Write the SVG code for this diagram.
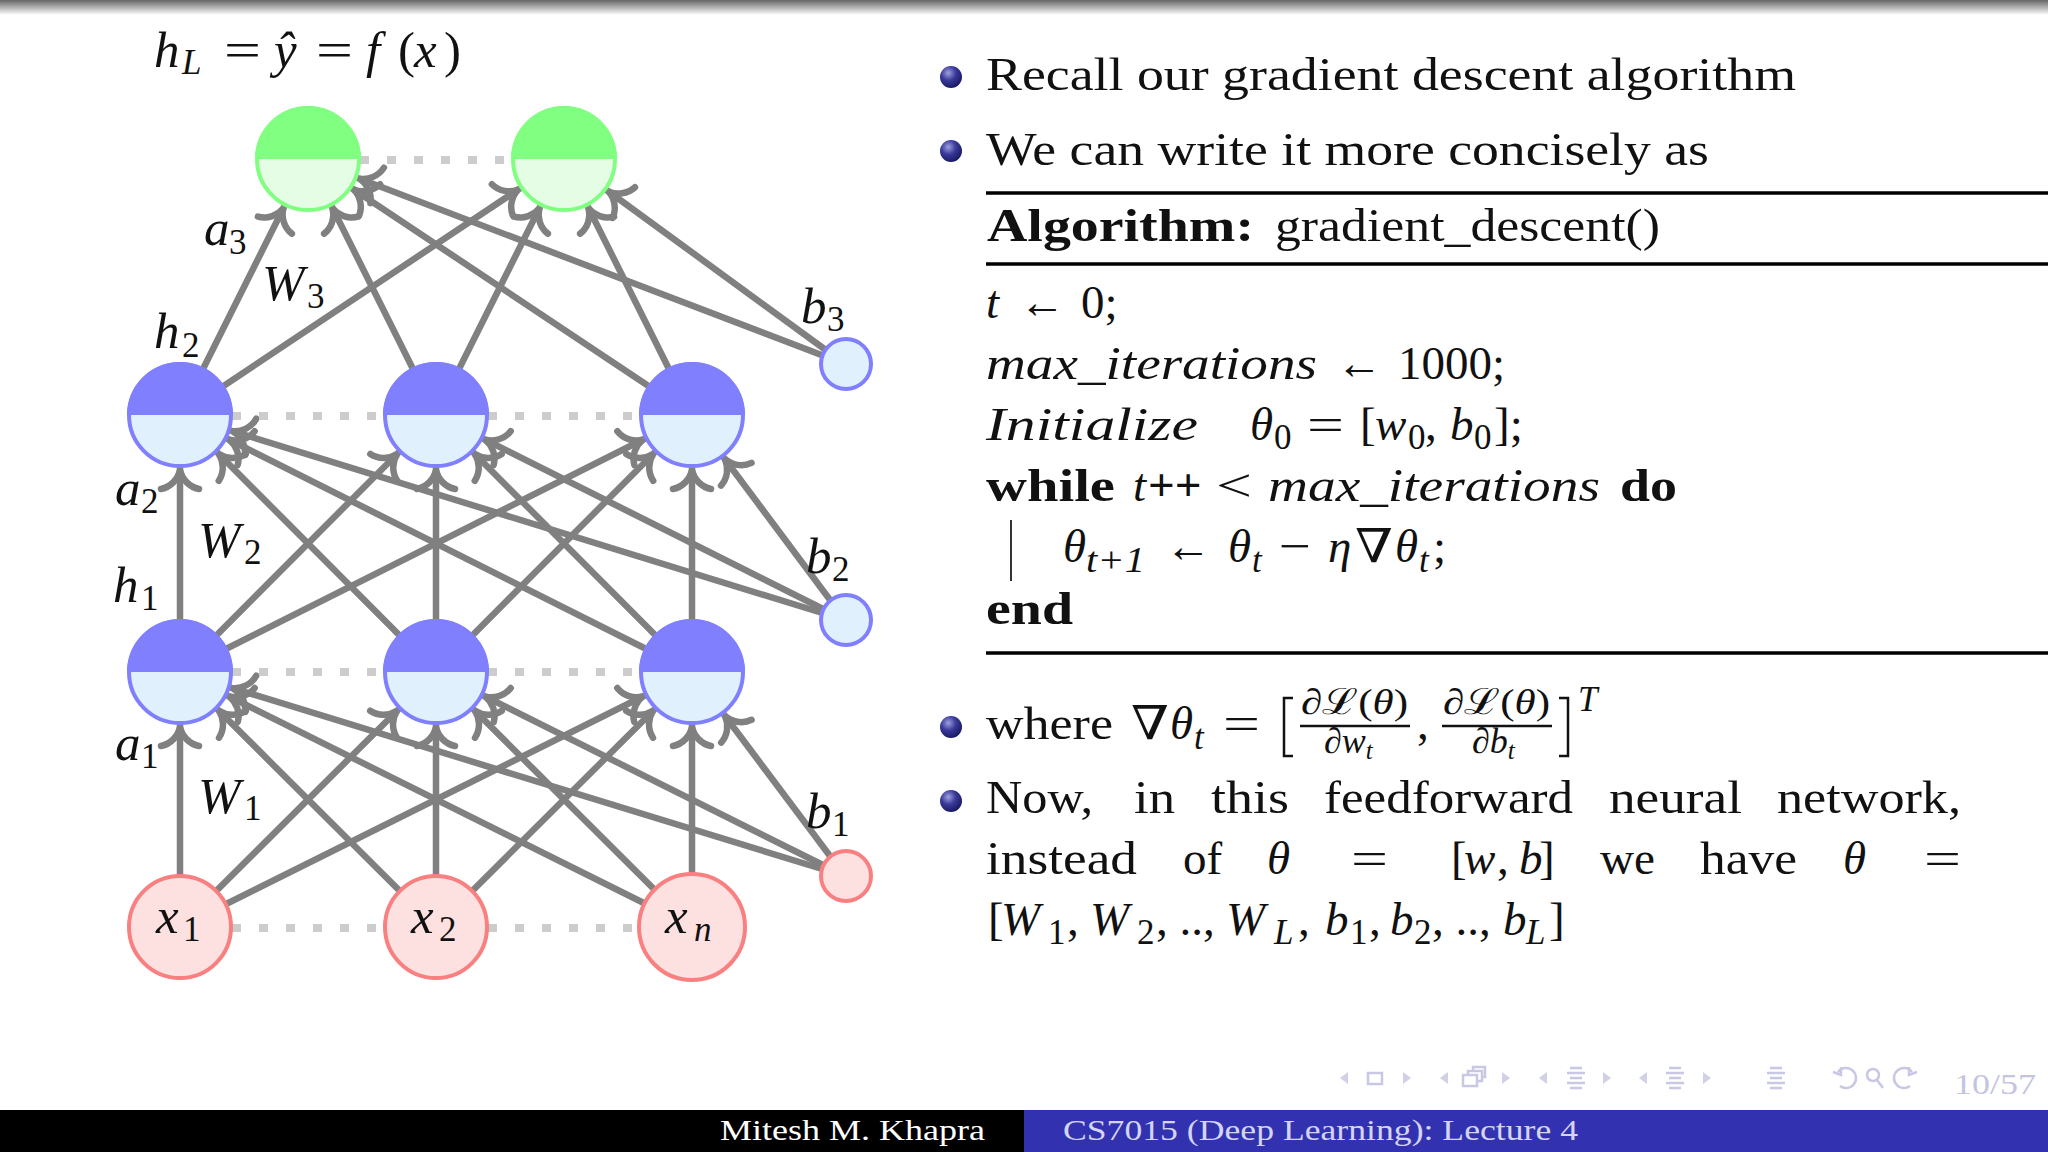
<svg xmlns="http://www.w3.org/2000/svg" width="2048" height="1152" viewBox="0 0 2048 1152">
<style>
text{font-family:"Liberation Serif","DejaVu Serif",serif;fill:#111}
.b{font-size:47px}
.m{font-size:51px}
.i{font-style:italic}
.bd{font-weight:bold}
.s{font-size:35px}
.t{font-size:46px}
.foot{font-size:29px}
.e line{stroke:#808080;stroke-width:6.5;marker-end:url(#to)}
.dots line{stroke:#cccccc;stroke-width:8;stroke-dasharray:9 18}
.gl{fill:#e5fce5;stroke:#80ff80;stroke-width:4}
.gd{fill:#80ff80}
.bl{fill:#e0f0fc;stroke:#8080ff;stroke-width:4}
.bdk{fill:#8080ff}
.rd{fill:#fde0e0;stroke:#f88080;stroke-width:4}
.nav{fill:none;stroke:#c8c8e4;stroke-width:2.5}
.navf{fill:#d0d0e8}
.rule{stroke:#000;stroke-width:3.5}
</style>
<defs>
<linearGradient id="band" x1="0" y1="0" x2="0" y2="1"><stop offset="0" stop-color="#666"/><stop offset="1" stop-color="#fff"/></linearGradient>
<radialGradient id="ball" cx="0.38" cy="0.32" r="0.75"><stop offset="0" stop-color="#a0a0e0"/><stop offset="0.45" stop-color="#3a3a9a"/><stop offset="1" stop-color="#14145a"/></radialGradient>
<marker id="to" markerUnits="userSpaceOnUse" markerWidth="40" markerHeight="60" refX="55" refY="0" orient="auto" overflow="visible">
<path d="M-19,-19C-17,-9 -9,-2 0,0C-9,2 -17,9 -19,19" fill="none" stroke="#808080" stroke-width="6.5" stroke-linecap="round"/>
</marker>
</defs>
<rect width="2048" height="1152" fill="#fff"/>
<rect width="2048" height="15" fill="url(#band)"/>

<g id="connectors" class="e">
<line x1="180" y1="927" x2="180" y2="672"/><line x1="180" y1="927" x2="436" y2="672"/><line x1="180" y1="927" x2="692" y2="672"/>
<line x1="436" y1="927" x2="180" y2="672"/><line x1="436" y1="927" x2="436" y2="672"/><line x1="436" y1="927" x2="692" y2="672"/>
<line x1="692" y1="927" x2="180" y2="672"/><line x1="692" y1="927" x2="436" y2="672"/><line x1="692" y1="927" x2="692" y2="672"/>
<line x1="845" y1="876" x2="180" y2="672"/><line x1="845" y1="876" x2="436" y2="672"/><line x1="845" y1="876" x2="692" y2="672"/>
<line x1="180" y1="672" x2="180" y2="415"/><line x1="180" y1="672" x2="436" y2="415"/><line x1="180" y1="672" x2="692" y2="415"/>
<line x1="436" y1="672" x2="180" y2="415"/><line x1="436" y1="672" x2="436" y2="415"/><line x1="436" y1="672" x2="692" y2="415"/>
<line x1="692" y1="672" x2="180" y2="415"/><line x1="692" y1="672" x2="436" y2="415"/><line x1="692" y1="672" x2="692" y2="415"/>
<line x1="845" y1="620" x2="180" y2="415"/><line x1="845" y1="620" x2="436" y2="415"/><line x1="845" y1="620" x2="692" y2="415"/>
<line x1="180" y1="415" x2="308" y2="159"/><line x1="180" y1="415" x2="564" y2="159"/>
<line x1="436" y1="415" x2="308" y2="159"/><line x1="436" y1="415" x2="564" y2="159"/>
<line x1="692" y1="415" x2="308" y2="159"/><line x1="692" y1="415" x2="564" y2="159"/>
<line x1="845" y1="364" x2="308" y2="159"/><line x1="845" y1="364" x2="564" y2="159"/>
</g>
<g id="dotted" class="dots">
<line x1="360" y1="160" x2="511" y2="160"/>
<line x1="232" y1="416" x2="384" y2="416"/><line x1="488" y1="416" x2="640" y2="416"/>
<line x1="232" y1="672" x2="384" y2="672"/><line x1="488" y1="672" x2="640" y2="672"/>
<line x1="232" y1="928" x2="384" y2="928"/><line x1="488" y1="928" x2="640" y2="928"/>
</g>

<g id="y1" transform="translate(308 159)"><circle r="51" class="gl"/><path class="gd" d="M-53,0A53,53 0 0 1 53,0Z"/></g>
<g id="y2" transform="translate(564 159)"><circle r="51" class="gl"/><path class="gd" d="M-53,0A53,53 0 0 1 53,0Z"/></g>
<g id="h21" transform="translate(180 415)"><circle r="51" class="bl"/><path class="bdk" d="M-53,0A53,53 0 0 1 53,0Z"/></g>
<g id="h22" transform="translate(436 415)"><circle r="51" class="bl"/><path class="bdk" d="M-53,0A53,53 0 0 1 53,0Z"/></g>
<g id="h23" transform="translate(692 415)"><circle r="51" class="bl"/><path class="bdk" d="M-53,0A53,53 0 0 1 53,0Z"/></g>
<g id="h11" transform="translate(180 672)"><circle r="51" class="bl"/><path class="bdk" d="M-53,0A53,53 0 0 1 53,0Z"/></g>
<g id="h12" transform="translate(436 672)"><circle r="51" class="bl"/><path class="bdk" d="M-53,0A53,53 0 0 1 53,0Z"/></g>
<g id="h13" transform="translate(692 672)"><circle r="51" class="bl"/><path class="bdk" d="M-53,0A53,53 0 0 1 53,0Z"/></g>
<g id="x1"><circle cx="180" cy="927" r="51" class="rd"/><text class="m i" x="156" y="933">x<tspan class="s" x="183" y="941" font-style="normal">1</tspan></text></g>
<g id="x2"><circle cx="436" cy="927" r="51" class="rd"/><text class="m i" x="411" y="933">x<tspan class="s" x="439" y="941" font-style="normal">2</tspan></text></g>
<g id="xn"><circle cx="692" cy="927" r="53" class="rd"/><text class="m i" x="665" y="933">x<tspan class="s" x="694" y="941">n</tspan></text></g>
<g id="b3n"><circle cx="846" cy="364" r="25" class="bl"/></g>
<g id="b2n"><circle cx="846" cy="620" r="25" class="bl"/></g>
<g id="b1n"><circle cx="846" cy="876" r="25" class="rd"/></g>

<g id="labels">
<text class="m i" x="154" y="67" font-size="52">h<tspan class="s" x="182" y="74">L</tspan></text>
<text class="m" x="224" y="67" textLength="37" lengthAdjust="spacingAndGlyphs">=</text>
<text class="m i" x="274" y="67">ŷ</text>
<text class="m" x="316" y="67" textLength="37" lengthAdjust="spacingAndGlyphs">=</text>
<text class="m i" x="366" y="67">f</text>
<text class="m" x="398" y="67">(</text>
<text class="m i" x="414" y="67">x</text>
<text class="m" x="444" y="67">)</text>
<text class="m i" x="204" y="245">a<tspan class="s" x="229" y="254" font-style="normal">3</tspan></text>
<text class="m i" x="262" y="300">W<tspan class="s" x="307" y="308" font-style="normal">3</tspan></text>
<text class="m i" x="154" y="348">h<tspan class="s" x="182" y="357" font-style="normal">2</tspan></text>
<text class="m i" x="801" y="323">b<tspan class="s" x="827" y="331" font-style="normal">3</tspan></text>
<text class="m i" x="115" y="505">a<tspan class="s" x="141" y="513" font-style="normal">2</tspan></text>
<text class="m i" x="198" y="557">W<tspan class="s" x="244" y="564" font-style="normal">2</tspan></text>
<text class="m i" x="113" y="602">h<tspan class="s" x="141" y="610" font-style="normal">1</tspan></text>
<text class="m i" x="806" y="573">b<tspan class="s" x="832" y="581" font-style="normal">2</tspan></text>
<text class="m i" x="115" y="760">a<tspan class="s" x="141" y="768" font-style="normal">1</tspan></text>
<text class="m i" x="198" y="813">W<tspan class="s" x="244" y="820" font-style="normal">1</tspan></text>
<text class="m i" x="806" y="828">b<tspan class="s" x="832" y="836" font-style="normal">1</tspan></text>
</g>

<g id="bullets">
<circle cx="951" cy="77" r="11" fill="url(#ball)"/>
<circle cx="951" cy="151" r="11" fill="url(#ball)"/>
<circle cx="951" cy="727" r="11" fill="url(#ball)"/>
<circle cx="951" cy="801" r="11" fill="url(#ball)"/>
</g>

<g id="text">
<text class="b" x="986" y="90" textLength="810" lengthAdjust="spacingAndGlyphs">Recall our gradient descent algorithm</text>
<text class="b" x="986" y="165" textLength="723" lengthAdjust="spacingAndGlyphs">We can write it more concisely as</text>
<line class="rule" x1="986" y1="193" x2="2048" y2="193"/>
<line class="rule" x1="986" y1="264" x2="2048" y2="264"/>
<line class="rule" x1="986" y1="653" x2="2048" y2="653"/>
<text class="b bd" x="987" y="241" textLength="267" lengthAdjust="spacingAndGlyphs">Algorithm:</text>
<text class="b" x="1275" y="241" textLength="385" lengthAdjust="spacingAndGlyphs">gradient_descent()</text>

<text class="b i" x="986" y="318">t</text><text class="b" x="1019" y="318" textLength="46" lengthAdjust="spacingAndGlyphs">←</text><text class="b" x="1081" y="318">0;</text>
<text class="b i" x="986" y="379" textLength="331" lengthAdjust="spacingAndGlyphs">max_iterations</text><text class="b" x="1336" y="379" textLength="46" lengthAdjust="spacingAndGlyphs">←</text><text class="b" x="1398" y="379">1000;</text>
<text class="b i" x="986" y="440" textLength="212" lengthAdjust="spacingAndGlyphs">Initialize</text>
<text class="b i" x="1250" y="440">θ<tspan class="s" x="1274" y="449" font-style="normal">0</tspan></text>
<text class="b" x="1307" y="440" textLength="37" lengthAdjust="spacingAndGlyphs">=</text><text class="b" x="1360" y="440">[</text>
<text class="b i" x="1375" y="440">w<tspan class="s" x="1408" y="449" font-style="normal">0</tspan></text>
<text class="b" x="1425" y="440">,</text>
<text class="b i" x="1450" y="440">b<tspan class="s" x="1474" y="449" font-style="normal">0</tspan></text>
<text class="b" x="1494" y="440">];</text>

<text class="b bd" x="986" y="501" textLength="129" lengthAdjust="spacingAndGlyphs">while</text>
<text class="b i" x="1133" y="501">t</text><text class="b bd" x="1148" y="501">++</text>
<text class="b" x="1216" y="501" textLength="36" lengthAdjust="spacingAndGlyphs">&lt;</text>
<text class="b i" x="1268" y="501" textLength="332" lengthAdjust="spacingAndGlyphs">max_iterations</text>
<text class="b bd" x="1620" y="501" textLength="57" lengthAdjust="spacingAndGlyphs">do</text>

<line x1="1011" y1="520" x2="1011" y2="581" stroke="#000" stroke-width="1.6"/>
<text class="b i" x="1063" y="562">θ<tspan class="s" x="1086" y="572" textLength="59" lengthAdjust="spacingAndGlyphs">t+1</tspan></text>
<text class="b" x="1165" y="562" textLength="46" lengthAdjust="spacingAndGlyphs">←</text>
<text class="b i" x="1228" y="562">θ<tspan class="s" x="1252" y="572">t</tspan></text>
<text class="b" x="1279" y="562" textLength="32" lengthAdjust="spacingAndGlyphs">−</text>
<text class="b i" x="1328" y="562">η</text>
<text class="b" x="1355" y="562" textLength="38" lengthAdjust="spacingAndGlyphs">∇</text>
<text class="b i" x="1395" y="562">θ<tspan class="s" x="1419" y="572">t</tspan></text>
<text class="b" x="1433" y="562">;</text>
<text class="b bd" x="986" y="624" textLength="87" lengthAdjust="spacingAndGlyphs">end</text>

<text class="b" x="986" y="739" textLength="127" lengthAdjust="spacingAndGlyphs">where</text>
<text class="b" x="1131" y="739" textLength="38" lengthAdjust="spacingAndGlyphs">∇</text>
<text class="b i" x="1170" y="739">θ<tspan class="s" x="1194" y="749">t</tspan></text>
<text class="b" x="1223" y="739" textLength="37" lengthAdjust="spacingAndGlyphs">=</text>
<path d="M1293,698H1284V756H1293" fill="none" stroke="#111" stroke-width="2.5"/>
<text x="1301" y="714" style="font-size:36px" textLength="107" lengthAdjust="spacingAndGlyphs">∂ℒ(<tspan class="i">θ</tspan>)</text>
<line x1="1300" y1="726" x2="1410" y2="726" stroke="#111" stroke-width="2.5"/>
<text x="1324" y="753" style="font-size:36px">∂<tspan class="i">w</tspan><tspan class="i" style="font-size:25px" dy="6">t</tspan></text>
<text class="b" x="1417" y="739">,</text>
<text x="1443" y="714" style="font-size:36px" textLength="107" lengthAdjust="spacingAndGlyphs">∂ℒ(<tspan class="i">θ</tspan>)</text>
<line x1="1442" y1="726" x2="1552" y2="726" stroke="#111" stroke-width="2.5"/>
<text x="1472" y="753" style="font-size:36px">∂<tspan class="i">b</tspan><tspan class="i" style="font-size:25px" dy="6">t</tspan></text>
<path d="M1559,698H1568V756H1559" fill="none" stroke="#111" stroke-width="2.5"/>
<text class="s i" x="1578" y="711">T</text>

<text class="b" x="986" y="813" textLength="107" lengthAdjust="spacingAndGlyphs">Now,</text>
<text class="b" x="1134" y="813" textLength="41" lengthAdjust="spacingAndGlyphs">in</text>
<text class="b" x="1211" y="813" textLength="78" lengthAdjust="spacingAndGlyphs">this</text>
<text class="b" x="1324" y="813" textLength="249" lengthAdjust="spacingAndGlyphs">feedforward</text>
<text class="b" x="1609" y="813" textLength="133" lengthAdjust="spacingAndGlyphs">neural</text>
<text class="b" x="1777" y="813" textLength="184" lengthAdjust="spacingAndGlyphs">network,</text>

<text class="b" x="986" y="874" textLength="151" lengthAdjust="spacingAndGlyphs">instead</text>
<text class="b" x="1183" y="874">of</text>
<text class="b i" x="1267" y="874">θ</text>
<text class="b" x="1351" y="874" textLength="37" lengthAdjust="spacingAndGlyphs">=</text>
<text class="b" x="1451" y="874">[</text><text class="b i" x="1464" y="874">w</text><text class="b" x="1497" y="874">,</text><text class="b i" x="1519" y="874">b</text><text class="b" x="1539" y="874">]</text>
<text class="b" x="1600" y="874" textLength="55" lengthAdjust="spacingAndGlyphs">we</text>
<text class="b" x="1700" y="874" textLength="97" lengthAdjust="spacingAndGlyphs">have</text>
<text class="b i" x="1843" y="874">θ</text>
<text class="b" x="1924" y="874" textLength="37" lengthAdjust="spacingAndGlyphs">=</text>

<text class="b" x="988" y="935">[</text>
<text class="b i" x="1001" y="935">W<tspan class="s" x="1048" y="944" font-style="normal">1</tspan></text><text class="b" x="1067" y="935">,</text>
<text class="b i" x="1090" y="935">W<tspan class="s" x="1137" y="944" font-style="normal">2</tspan></text><text class="b" x="1156" y="935">, .., </text>
<text class="b i" x="1226" y="935">W<tspan class="s" x="1274" y="944">L</tspan></text><text class="b" x="1298" y="935">,</text>
<text class="b i" x="1325" y="935">b<tspan class="s" x="1350" y="944" font-style="normal">1</tspan></text><text class="b" x="1369" y="935">,</text>
<text class="b i" x="1390" y="935">b<tspan class="s" x="1414" y="944" font-style="normal">2</tspan></text><text class="b" x="1432" y="935">, .., </text>
<text class="b i" x="1503" y="935">b<tspan class="s" x="1526" y="944">L</tspan></text><text class="b" x="1549" y="935">]</text>
</g>

<g id="nav">
<path class="navf" d="M1348,1072L1340,1078L1348,1084ZM1403,1072L1411,1078L1403,1084ZM1448,1072L1440,1078L1448,1084ZM1502,1072L1510,1078L1502,1084ZM1547,1072L1539,1078L1547,1084ZM1603,1072L1611,1078L1603,1084ZM1647,1072L1639,1078L1647,1084ZM1703,1072L1711,1078L1703,1084Z"/>
<rect class="nav" x="1368" y="1073" width="14" height="11"/>
<path class="nav" d="M1463,1075h14v11h-14zM1468,1075v-4h14v10h-5M1473,1071v-4h12v10h-3"/>
<path class="nav" d="M1570,1068h12M1567,1073h18M1570,1078h12M1567,1083h18M1570,1088h12"/>
<path class="nav" d="M1669,1068h12M1666,1073h18M1669,1078h12M1666,1083h18M1669,1088h12"/>
<path class="nav" d="M1770,1068h12M1767,1073h18M1770,1078h12M1767,1083h18M1770,1088h12"/>
<path class="nav" d="M1838,1072a10,10 0 1 1 2,14M1833,1072l8,3l0,-8"/>
<circle class="nav" cx="1873" cy="1075" r="6"/><path class="nav" d="M1877,1080l6,8"/>
<path class="nav" d="M1912,1072a10,10 0 1 0 -2,14M1917,1072l-8,3l0,-8"/>
<text x="1954" y="1094" style="font-size:29px;fill:#c4c4e0" textLength="82" lengthAdjust="spacingAndGlyphs">10/57</text>
</g>

<g id="footer">
<rect x="0" y="1110" width="1024" height="42" fill="#000"/>
<rect x="1024" y="1110" width="1024" height="42" fill="#3232b0"/>
<text class="foot" x="720" y="1140" style="fill:#fff" textLength="265" lengthAdjust="spacingAndGlyphs">Mitesh M. Khapra</text>
<text class="foot" x="1063" y="1140" style="fill:#d4d4f4" textLength="515" lengthAdjust="spacingAndGlyphs">CS7015 (Deep Learning): Lecture 4</text>
</g>
</svg>
